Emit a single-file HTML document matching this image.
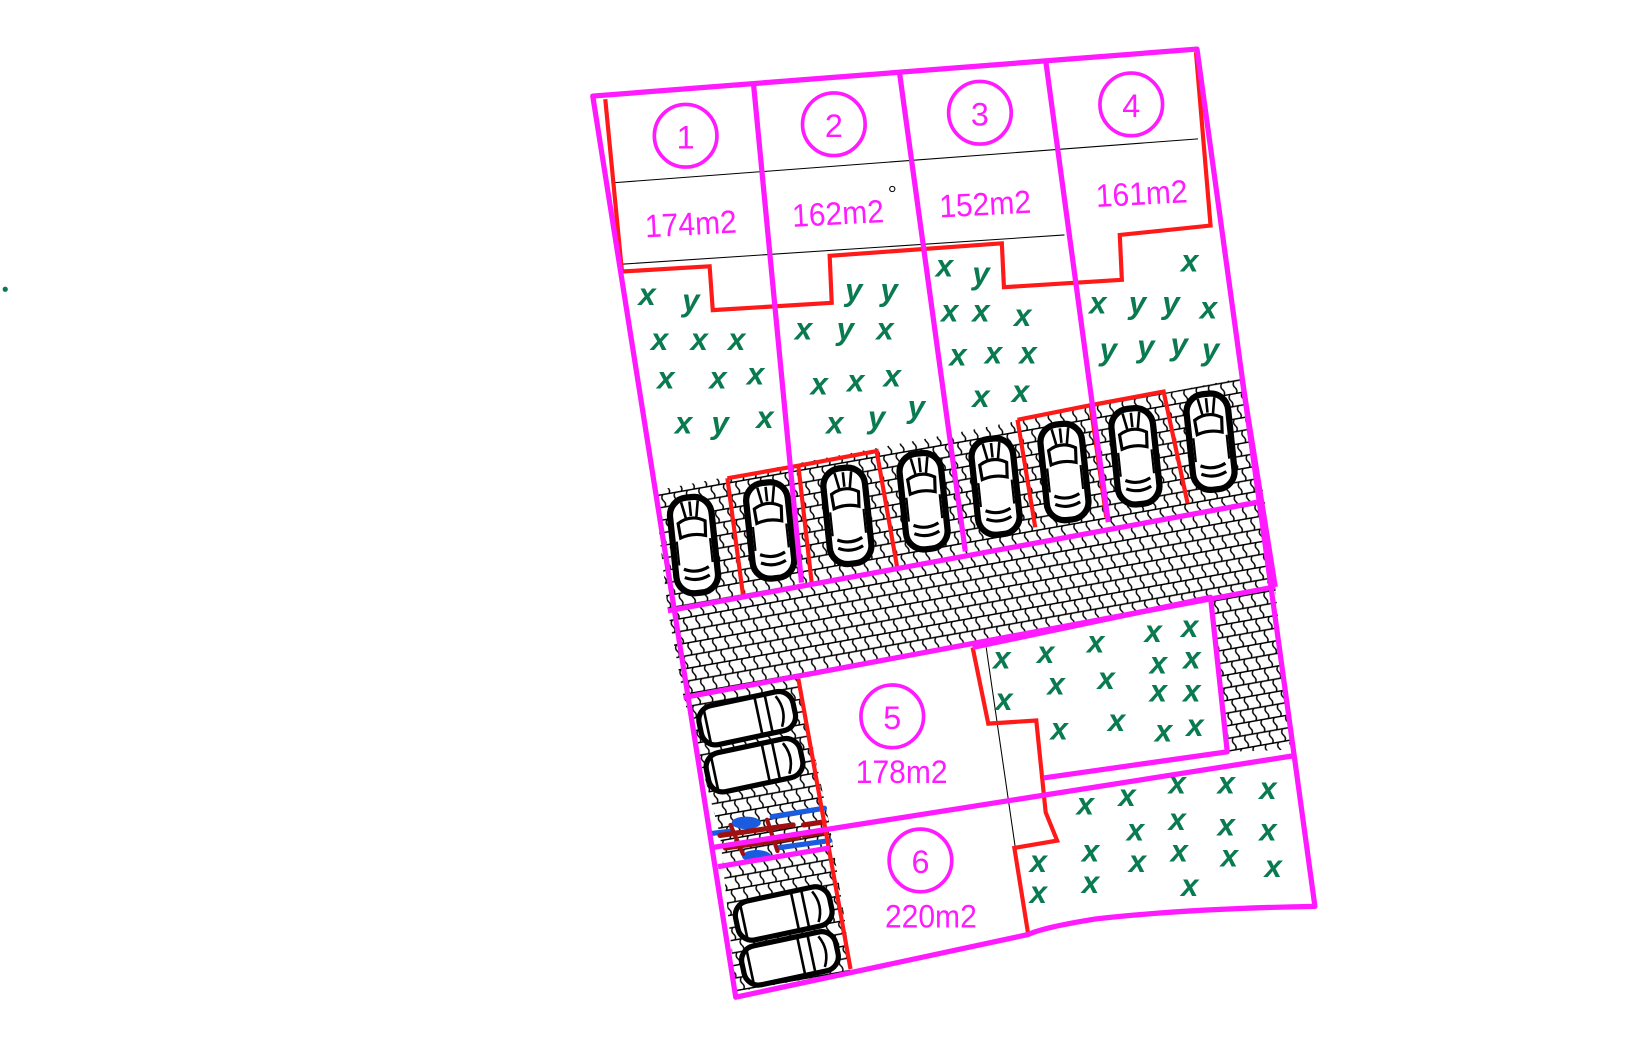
<!DOCTYPE html>
<html><head><meta charset="utf-8"><style>
html,body{margin:0;padding:0;background:#fff;}
svg{display:block;}
text{font-family:"Liberation Sans",sans-serif;}
</style></head><body>
<svg width="1628" height="1039" viewBox="0 0 1560 995" preserveAspectRatio="none" xmlns="http://www.w3.org/2000/svg">
<defs>
<pattern id="pav" width="12" height="24" patternUnits="userSpaceOnUse" patternTransform="rotate(-10)">
<rect width="12" height="24" fill="#fff"/>
<path d="M0 0.7H12M0 12.7H12" stroke="#000" stroke-width="1.4"/>
<path d="M3 1 q-2.5 3 0 6 q2.5 3 0 6 M9 13 q-2.5 3 0 6 q2.5 3 0 6" stroke="#000" stroke-width="1.4" fill="none"/>
</pattern>
<g id="car">
<rect x="-20" y="-46" width="40" height="92" rx="17" fill="#fff" stroke="#000" stroke-width="6"/>
<path d="M-13 -22 Q0 -30 13 -22 L12 -8 Q0 -12 -12 -8Z" fill="none" stroke="#000" stroke-width="3"/>
<path d="M-12 22 Q0 28 12 22 M-12 30 Q0 36 12 30" fill="none" stroke="#000" stroke-width="3"/>
<path d="M-8 -42 L-5 -26 M8 -42 L5 -26 M0 -42 V-28" stroke="#000" stroke-width="2.5"/>
<path d="M-16 -5 V18 M16 -5 V18" stroke="#000" stroke-width="2"/>
</g>
<g id="hcar">
<rect x="-45" y="-19" width="92" height="38" rx="14" fill="#fff" stroke="#000" stroke-width="5"/>
<path d="M12 -17 V17 M22 -17 V17 M32 -15 Q40 0 32 15" fill="none" stroke="#000" stroke-width="2.5"/>
<path d="M-38 -17 V17" stroke="#000" stroke-width="2.5"/>
</g>
</defs>

<polygon points="627,470 1190,362 1212,480 1222,562 1237,720 1000,745 800,790 815,930 705,950 690,800 655,668 640,585" fill="url(#pav)"/>
<polygon points="765,650 1160,575 1176,720 1237,718 1260,868 985,895 817,928 795,790" fill="#fff"/>
<polygon points="932,620 1160,572 1176,720 1000,745" fill="#fff"/>

<g stroke="#000" stroke-width="1" fill="none">
<line x1="588" y1="175" x2="1148" y2="133"/>
<line x1="596" y1="253" x2="1020" y2="225"/>
<line x1="945" y1="620" x2="985" y2="895"/>
</g>

<use href="#car" transform="translate(665,522) rotate(-6)"/>
<use href="#car" transform="translate(738,508) rotate(-6)"/>
<use href="#car" transform="translate(812,494) rotate(-6)"/>
<use href="#car" transform="translate(885,480) rotate(-6)"/>
<use href="#car" transform="translate(954,466) rotate(-6)"/>
<use href="#car" transform="translate(1020,452) rotate(-6)"/>
<use href="#car" transform="translate(1088,437) rotate(-6)"/>
<use href="#car" transform="translate(1160,423) rotate(-6)"/>
<use href="#hcar" transform="translate(715,688) rotate(-12)"/>
<use href="#hcar" transform="translate(722,733) rotate(-12)"/>
<use href="#hcar" transform="translate(750,875) rotate(-12)"/>
<use href="#hcar" transform="translate(756,918) rotate(-12)"/>

<g stroke-linecap="round" fill="none">
<path d="M740 782 L790 774 M745 812 L795 805 M683 798 L700 796" stroke="#1a5be0" stroke-width="5"/>
<ellipse cx="715" cy="788" rx="14" ry="6" fill="#1a5be0"/>
<ellipse cx="725" cy="820" rx="14" ry="6" fill="#1a5be0"/>
<path d="M690 800 L760 790 M695 812 L765 802 M770 790 L790 787 M770 800 L792 797" stroke="#a01010" stroke-width="5"/>
<path d="M700 790 L712 818 M735 785 L745 815" stroke="#a01010" stroke-width="4"/>
</g>

<g stroke="#ff1a1a" stroke-width="4" fill="none">
<polyline points="580,95 596,260 680,255 683,297 797,290 795,245 960,233 962,275 1075,268 1073,225 1160,216 1146,50"/>
<polyline points="697,458 765,446 840,432 860,545"/>
<polyline points="697,458 712,570"/>
<polyline points="765,446 778,560"/>
<polyline points="975,402 1045,388 1115,375 1138,482"/>
<polyline points="975,402 992,505"/>
<polyline points="1045,388 1060,495"/>
<polyline points="765,650 815,928"/>
<polyline points="932,620 947,693 993,690 1002,778 1013,805 972,812 985,893"/>
</g>

<g stroke="#ff1aff" stroke-width="5" fill="none" stroke-linejoin="round">
<path d="M568,92 L1147,47 L1260,868 Q1140,870 1050,880 Q1000,888 985,895 L705,955 Z"/>
<line x1="722" y1="80" x2="768" y2="558"/>
<line x1="862" y1="70" x2="925" y2="528"/>
<line x1="1002" y1="58" x2="1062" y2="500"/>
<line x1="640" y1="585" x2="1210" y2="480"/>
<line x1="655" y1="668" x2="1222" y2="562"/>
<line x1="680" y1="812" x2="1238" y2="724"/>
<line x1="688" y1="830" x2="795" y2="812"/>
<polyline points="932,620 1160,572 1176,720 1000,745"/>
<line x1="1190" y1="362" x2="1222" y2="562"/>
</g>

<g stroke="#ff1aff" stroke-width="3.5" fill="none">
<circle cx="657" cy="130" r="30"/>
<circle cx="799" cy="119" r="30"/>
<circle cx="939" cy="108" r="30"/>
<circle cx="1084" cy="100" r="30"/>
<circle cx="855" cy="686" r="30"/>
<circle cx="882" cy="824" r="30"/>
</g>
<g fill="#ff1aff" font-size="31" text-anchor="middle">
<text x="657" y="142">1</text>
<text x="799" y="131">2</text>
<text x="939" y="120">3</text>
<text x="1084" y="112">4</text>
<text x="855" y="698">5</text>
<text x="882" y="836">6</text>
<text x="662" y="225" transform="rotate(-3 662 215)" textLength="88" lengthAdjust="spacingAndGlyphs">174m2</text>
<text x="803" y="215" transform="rotate(-3 803 205)" textLength="88" lengthAdjust="spacingAndGlyphs">162m2</text>
<text x="944" y="206" transform="rotate(-3 944 196)" textLength="88" lengthAdjust="spacingAndGlyphs">152m2</text>
<text x="1094" y="196" transform="rotate(-3 1094 186)" textLength="88" lengthAdjust="spacingAndGlyphs">161m2</text>
<text x="864" y="750" textLength="88" lengthAdjust="spacingAndGlyphs">178m2</text>
<text x="892" y="888" textLength="88" lengthAdjust="spacingAndGlyphs">220m2</text>
</g>

<g fill="#0a7a50" font-size="30" font-weight="bold" text-anchor="middle" font-style="italic">
<text x="620" y="292">x</text><text x="662" y="298">y</text>
<text x="632" y="335">x</text><text x="670" y="335">x</text><text x="706" y="335">x</text>
<text x="638" y="372">x</text><text x="688" y="372">x</text><text x="724" y="368">x</text>
<text x="655" y="415">x</text><text x="690" y="415">y</text><text x="733" y="410">x</text>
<text x="818" y="288">y</text><text x="852" y="288">y</text>
<text x="770" y="325">x</text><text x="810" y="325">y</text><text x="848" y="325">x</text>
<text x="785" y="378">x</text><text x="820" y="375">x</text><text x="855" y="370">x</text>
<text x="800" y="415">x</text><text x="840" y="410">y</text><text x="878" y="400">y</text>
<text x="905" y="265">x</text><text x="940" y="272">y</text>
<text x="910" y="308">x</text><text x="940" y="308">x</text><text x="980" y="312">x</text>
<text x="918" y="350">x</text><text x="952" y="348">x</text><text x="985" y="348">x</text>
<text x="940" y="390">x</text><text x="978" y="385">x</text>
<text x="1140" y="260">x</text>
<text x="1052" y="300">x</text><text x="1090" y="300">y</text><text x="1122" y="300">y</text><text x="1158" y="305">x</text>
<text x="1062" y="345">y</text><text x="1098" y="342">y</text><text x="1130" y="340">y</text><text x="1160" y="345">y</text>
<text x="960" y="640">x</text><text x="1002" y="635">x</text><text x="1050" y="625">x</text><text x="1105" y="615">x</text><text x="1140" y="610">x</text>
<text x="962" y="680">x</text><text x="1012" y="665">x</text><text x="1060" y="660">x</text><text x="1110" y="645">x</text><text x="1142" y="640">x</text>
<text x="1015" y="708">x</text><text x="1070" y="700">x</text><text x="1115" y="710">x</text><text x="1145" y="705">x</text>
<text x="1110" y="672">x</text><text x="1142" y="672">x</text>
<text x="1040" y="780">x</text><text x="1080" y="772">x</text><text x="1128" y="760">x</text><text x="1175" y="760">x</text><text x="1215" y="765">x</text>
<text x="1088" y="805">x</text><text x="1128" y="795">x</text><text x="1175" y="800">x</text><text x="1215" y="805">x</text>
<text x="995" y="835">x</text><text x="1045" y="825">x</text><text x="1090" y="835">x</text><text x="1130" y="825">x</text><text x="1178" y="830">x</text><text x="1220" y="840">x</text>
<text x="995" y="865">x</text><text x="1045" y="855">x</text><text x="1140" y="858">x</text>
</g>
<circle cx="5" cy="277" r="2.5" fill="#0a7a50"/>
<circle cx="855" cy="181" r="2.5" fill="none" stroke="#000" stroke-width="1"/>
</svg>
</body></html>
